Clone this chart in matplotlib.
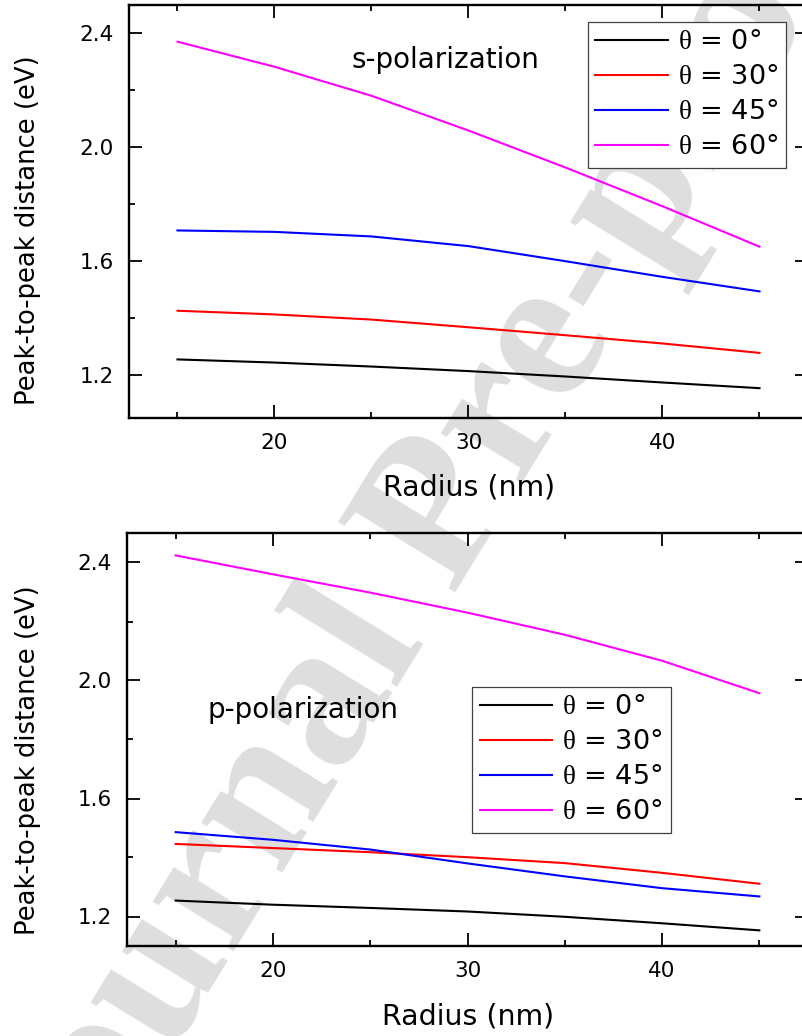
import matplotlib
matplotlib.use('Agg')
import matplotlib.pyplot as plt
from matplotlib.ticker import MultipleLocator

# ---------------- data ----------------
radius = [15, 20, 25, 30, 35, 40, 45]
angles = ['0', '30', '45', '60']

s_theta0 = [1.254, 1.243, 1.229, 1.213, 1.194, 1.173, 1.153]
s_theta30 = [1.425, 1.412, 1.394, 1.367, 1.339, 1.310, 1.277]
s_theta45 = [1.707, 1.702, 1.686, 1.652, 1.599, 1.544, 1.493]
s_theta60 = [2.370, 2.282, 2.180, 2.058, 1.928, 1.792, 1.650]

p_theta0 = [1.254, 1.240, 1.229, 1.217, 1.199, 1.177, 1.153]
p_theta30 = [1.446, 1.432, 1.418, 1.401, 1.381, 1.348, 1.311]
p_theta45 = [1.486, 1.460, 1.427, 1.380, 1.336, 1.296, 1.268]
p_theta60 = [2.424, 2.360, 2.298, 2.230, 2.155, 2.067, 1.957]

s_series = [s_theta0, s_theta30, s_theta45, s_theta60]
p_series = [p_theta0, p_theta30, p_theta45, p_theta60]
colors = ['#000000', '#ff0000', '#0000ff', '#ff00ff']

# ---------------- style ----------------
plt.rcParams['font.family'] = ['DejaVu Sans']
plt.rcParams['mathtext.fontset'] = 'custom'
plt.rcParams['mathtext.rm'] = 'Liberation Serif'
plt.rcParams['mathtext.it'] = 'Liberation Serif'

W, H = 802, 1036
fig = plt.figure(figsize=(W / 100, H / 100), dpi=100)
fig.patch.set_facecolor('white')

# watermark
fig.text(0.547, 0.497, 'Journal Pre-proof', fontsize=150, fontweight='bold',
         family='Liberation Serif', color='#dedede', rotation=58.4,
         ha='center', va='center', zorder=-5)

ax1 = fig.add_axes([129 / W, 1 - 417.5 / H, (808 - 129) / W, (417.5 - 4.7) / H])
ax2 = fig.add_axes([127 / W, 1 - 946 / H, (808 - 127) / W, (946 - 533) / H])


def style(ax, ylim, series, legend_anchor, legend_loc, note, note_xy):
    ax.patch.set_alpha(0)
    for vals, c, a in zip(series, colors, angles):
        ax.plot(radius, vals, color=c, lw=1.5,
                label=r'$\mathrm{\theta}$ = ' + a + '°')
    ax.set_xlim(12.5, 47.5)
    ax.set_ylim(*ylim)
    ax.xaxis.set_major_locator(MultipleLocator(10))
    ax.xaxis.set_minor_locator(MultipleLocator(5))
    ax.yaxis.set_major_locator(MultipleLocator(0.4))
    ax.yaxis.set_minor_locator(MultipleLocator(0.2))
    ax.yaxis.set_major_formatter(matplotlib.ticker.FormatStrFormatter('%.1f'))
    ax.tick_params(which='both', direction='in', top=True, right=True,
                   labelsize=15.5)
    ax.tick_params(which='major', length=9.4, width=1.3)
    ax.tick_params(which='minor', length=4.3, width=1.3)
    ax.tick_params(axis='y', pad=10.8)
    ax.tick_params(axis='x', pad=11.0)
    for sp in ax.spines.values():
        sp.set_linewidth(1.7)
    ax.set_xlabel('Radius (nm)', fontsize=20.4)
    ax.set_ylabel('Peak-to-peak distance (eV)', fontsize=18.6)
    leg = ax.legend(loc=legend_loc, bbox_to_anchor=legend_anchor,
                    borderaxespad=0, fontsize=19.5, frameon=True,
                    fancybox=False, framealpha=1, edgecolor='#404040',
                    handlelength=2.68, handletextpad=0.37,
                    labelspacing=0.33, borderpad=0.28)
    leg.get_frame().set_linewidth(0.9)
    ax.text(note_xy[0], note_xy[1], note, fontsize=20, ha='left',
            va='baseline')


style(ax1, (1.05, 2.5), s_series, (0.9676, 0.9587), 'upper right',
      's-polarization', (23.95, 2.276))
style(ax2, (1.1, 2.5), p_series, (0.507, 0.628), 'upper left',
      'p-polarization', (16.66, 1.8725))

for ax, lx, ly, xy in [(ax1, -0.1487, 0.454, -0.17), (ax2, -0.1461, 0.4504, -0.1695)]:
    ax.yaxis.label.set_va('center')
    ax.yaxis.set_label_coords(lx, ly)
    ax.xaxis.label.set_va('center')
    ax.xaxis.set_label_coords(0.5006, xy)

fig.savefig('out.png', dpi=100, facecolor='white')
